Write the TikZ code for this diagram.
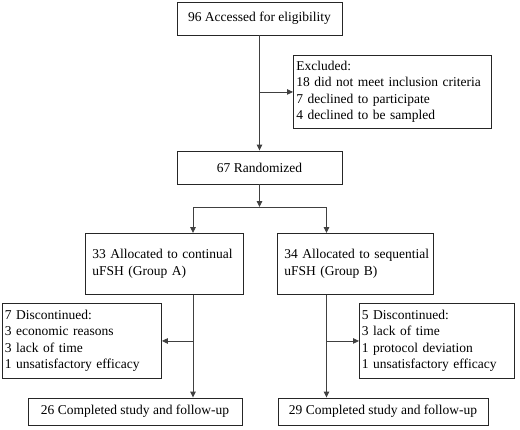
\documentclass[tikz,border=0pt]{standalone}
\usepackage{fontspec}
\setmainfont{Liberation Serif}
\usetikzlibrary{arrows.meta}
\hyphenpenalty=10000
\exhyphenpenalty=10000
\begin{document}
\begin{tikzpicture}[x=1pt,y=-1pt,
  box/.style={draw=black!85, line width=0.9pt, inner sep=0pt, font=\fontsize{13.5pt}{16.5pt}\selectfont},
  lbox/.style={box, anchor=north west, align=left},
  conn/.style={draw=black!75, line width=0.9pt},
  arr/.style={conn, -{Triangle[length=6pt,width=5.5pt]}}]
\useasboundingbox (0,0) rectangle (520,429);
\node[box, minimum width=165pt, minimum height=33pt] (acc) at (259.5,18.5) {96 Accessed for eligibility};
\node[lbox, minimum width=198pt, minimum height=73pt, inner xsep=3pt, text width=192pt] (excl) at (293,55)
  {Excluded:\\18 did not meet inclusion criteria\\7 declined to participate\\4 declined to be sampled};
\node[box, minimum width=165pt, minimum height=33pt] (rand) at (259.5,167.5) {67 Randomized};
\node[lbox, minimum width=158pt, minimum height=61pt, inner xsep=7pt, text width=144pt] (ga) at (85,233)
  {\mbox{33 Allocated to continual}\\uFSH (Group A)};
\node[lbox, minimum width=156pt, minimum height=61pt, inner xsep=7pt, text width=142pt] (gb) at (277,233)
  {\mbox{34 Allocated to sequential}\\uFSH (Group B)};
\node[lbox, minimum width=159pt, minimum height=75pt, inner xsep=2.5pt, text width=154pt] (da) at (2,303)
  {7 Discontinued:\\3 economic reasons\\3 lack of time\\1 unsatisfactory efficacy};
\node[lbox, minimum width=155pt, minimum height=75pt, inner xsep=2.5pt, text width=150pt] (db) at (359,303)
  {5 Discontinued:\\3 lack of time\\1 protocol deviation\\1 unsatisfactory efficacy};
\node[box, minimum width=214pt, minimum height=27pt] (ca) at (135,411.5) {26 Completed study and follow-up};
\node[box, minimum width=210pt, minimum height=27pt] (cb) at (383,411.5) {29 Completed study and follow-up};

\coordinate (split) at (259.5,207);
\coordinate (sa) at (193,207);
\coordinate (sb) at (326.5,207);

\draw[arr] (acc.south) -- (rand.north);
\draw[arr] (acc.south |- excl.west) -- (excl.west);
\draw[arr] (rand.south) -- (split);
\draw[conn] (sa) -- (sb);
\draw[arr] (sa) -- (sa |- ga.north);
\draw[arr] (sb) -- (sb |- gb.north);
\draw[arr] (sa |- ga.south) -- (sa |- ca.north);
\draw[arr] (sb |- gb.south) -- (sb |- cb.north);
\draw[arr] (sa |- da.east) -- (da.east);
\draw[arr] (sb |- db.west) -- (db.west);
\end{tikzpicture}
\end{document}
